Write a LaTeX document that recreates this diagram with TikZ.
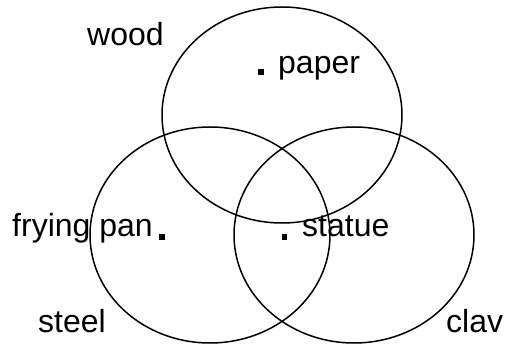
\documentclass[tikz,border=0pt]{standalone}
\usepackage{fontspec}
\setmainfont{Liberation Sans}
\usetikzlibrary{positioning}
\tikzset{
  set ring/.style={
    draw=black, line width=1.5pt
  },
  item label/.style={
    anchor=base west, inner sep=0pt,
    font=\fontsize{32}{38}\selectfont
  },
  item dot/.style={
    fill=black, inner sep=0pt, minimum size=5.5pt
  },
}
\begin{document}
\begin{tikzpicture}[x=1pt, y=1pt]
  \useasboundingbox (0,0) rectangle (506,345);

  % the three sets
  \draw[set ring] (282,230) ellipse [x radius=120, y radius=108];
  \draw[set ring] (210,110) ellipse [x radius=120, y radius=108];
  \draw[set ring] (354,110) ellipse [x radius=120, y radius=108];

  % set names
  \node[item label] (wood) at (87,299.5) {wood};
  \node[item label] (steel) at (38,12) {steel};
  \node[item label] (clav) at (446,12) {clav};

  % items
  \node[item dot] (paperdot) at (261,273) {};
  \node[item label] (paper) at (278,271) {paper};
  \node[item dot] (pandot) at (162,108) {};
  \node[item label] (pan) at (12,108) {frying pan};
  \node[item dot] (statuedot) at (284.5,108) {};
  \node[item label] (statue) at (302,108) {statue};

\end{tikzpicture}
\end{document}
